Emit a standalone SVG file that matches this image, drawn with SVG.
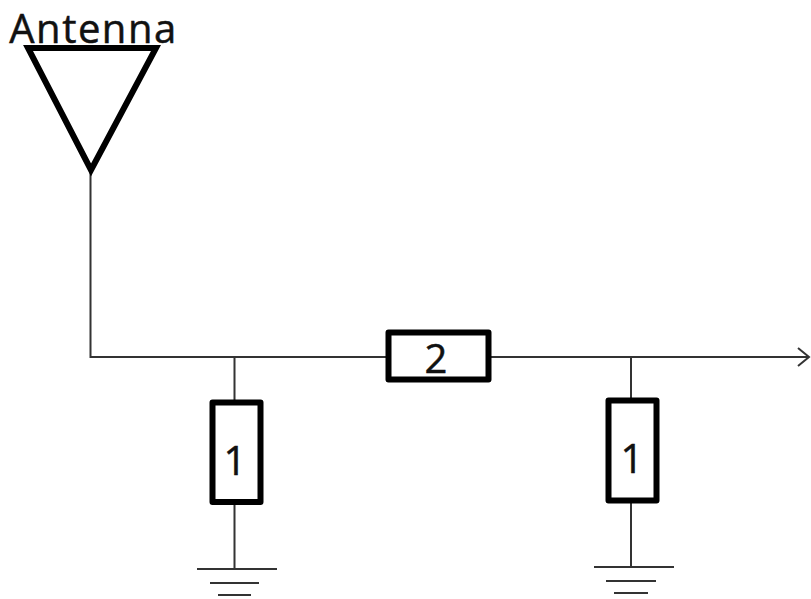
<svg xmlns="http://www.w3.org/2000/svg" width="811" height="599" viewBox="0 0 811 599">
<style>
.wire{fill:none;stroke:#333;stroke-width:2}
.gnd{fill:none;stroke:#333;stroke-width:2}
.body{fill:#fff;stroke:#000;stroke-width:6;stroke-linejoin:round}
.lbl{font-family:"Open Sans","Noto Sans",sans-serif;fill:#111;stroke:#111;stroke-width:.5;text-anchor:middle}
</style>
<rect width="811" height="599" fill="#fff"/>
<g id="connectors">
<path class="wire" d="M90.500 172V357H809"/>
<path class="wire" d="M798 348L809 357L798 366"/>
<path class="wire" d="M234.500 357V402M234.500 503V569"/>
<path class="wire" d="M631 357V400M631 501V567"/>
</g>
<g id="antenna">
<path d="M28 48H156L91 170Z" fill="#fff" stroke="#000" stroke-width="6" stroke-linejoin="miter"/>
<text class="lbl" x="93.500" y="43" font-size="40" letter-spacing="1.500">Antenna</text>
</g>
<g id="r2">
<rect class="body" x="388.500" y="332.500" width="100" height="47"/>
<text class="lbl" x="436" y="373" font-size="40">2</text>
</g>
<g id="r1-left">
<rect class="body" x="212.500" y="402.500" width="48" height="99.500"/>
<text class="lbl" x="235" y="475" font-size="40">1</text>
</g>
<g id="r1-right">
<rect class="body" x="608.500" y="400.500" width="48" height="100"/>
<text class="lbl" x="632" y="473" font-size="40">1</text>
</g>
<g id="ground-left">
<path class="gnd" d="M197 569H277M210 583H259M218 595H251"/>
</g>
<g id="ground-right">
<path class="gnd" d="M594 567H674M606 581H656M614 593H648"/>
</g>
</svg>
